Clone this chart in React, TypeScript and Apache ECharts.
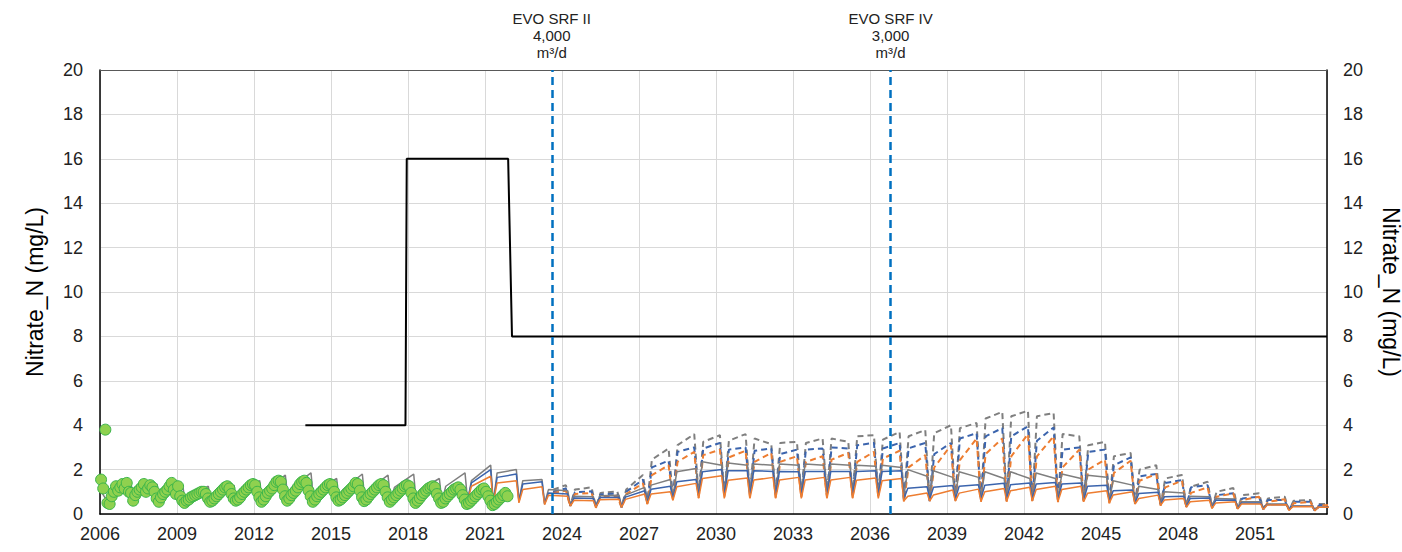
import React, { useEffect, useRef } from "react";
import * as echarts from "echarts";

// ---------- DATA ----------
const xMin = 2006;
const xMax = 2053.8;
const xTickYears = [2006, 2009, 2012, 2015, 2018, 2021, 2024, 2027, 2030, 2033, 2036, 2039, 2042, 2045, 2048, 2051];

// Observed Nitrate_N, monthly values per year (Jan..Dec)
const obsYears = [2006, 2007, 2008, 2009, 2010, 2011, 2012, 2013, 2014, 2015, 2016, 2017, 2018, 2019, 2020, 2021];
const obsMonthly: number[][] = [
  [1.55, 1.15, 3.8, 0.5, 0.45, 0.8, 1.0, 1.25, 1.05, 1.2, 1.35, 1.15],
  [1.4, 1.0, 0.95, 0.6, 0.85, 1.0, 1.1, 1.2, 1.35, 1.0, 1.15, 1.3],
  [1.2, 1.0, 0.7, 0.55, 0.75, 0.9, 1.0, 1.1, 1.25, 1.4, 1.1, 0.9],
  [1.25, 0.8, 0.6, 0.5, 0.6, 0.65, 0.75, 0.8, 0.85, 0.9, 0.95, 1.0],
  [1.0, 0.9, 0.7, 0.55, 0.6, 0.7, 0.8, 0.9, 1.0, 1.1, 1.2, 1.25],
  [1.15, 0.9, 0.7, 0.6, 0.65, 0.75, 0.9, 1.0, 1.1, 1.2, 1.3, 1.35],
  [1.3, 1.0, 0.75, 0.55, 0.65, 0.8, 0.95, 1.05, 1.15, 1.3, 1.45, 1.5],
  [1.45, 1.1, 0.8, 0.6, 0.7, 0.85, 0.95, 1.05, 1.2, 1.35, 1.45, 1.5],
  [1.4, 1.05, 0.8, 0.55, 0.65, 0.8, 0.9, 1.0, 1.1, 1.2, 1.3, 1.35],
  [1.3, 1.0, 0.75, 0.6, 0.65, 0.75, 0.85, 0.95, 1.05, 1.15, 1.25, 1.4],
  [1.35, 1.05, 0.75, 0.58, 0.65, 0.78, 0.9, 1.0, 1.1, 1.2, 1.3, 1.35],
  [1.3, 1.0, 0.75, 0.55, 0.65, 0.75, 0.85, 0.95, 1.05, 1.15, 1.25, 1.3],
  [1.25, 0.95, 0.7, 0.5, 0.6, 0.72, 0.85, 0.95, 1.05, 1.15, 1.2, 1.25],
  [1.2, 0.9, 0.7, 0.5, 0.55, 0.7, 0.8, 0.9, 1.0, 1.1, 1.15, 1.2],
  [1.1, 0.85, 0.65, 0.45, 0.5, 0.6, 0.7, 0.8, 0.9, 1.0, 1.1, 1.15],
  [1.0, 0.8, 0.6, 0.4, 0.45, 0.55, 0.65, 0.75, 0.85, 0.95, 0.8],
];

// Target / limit step line
const limitTimes = [2014.0, 2017.9, 2017.95, 2021.9, 2022.05, 2053.8];
const limitValues = [4, 4, 16, 16, 8, 8];

// Event markers
const eventYears = [2023.6, 2036.8];
const eventLabels = ["EVO SRF II\n4,000\nm³/d", "EVO SRF IV\n3,000\nm³/d"];

// Simulated seasonal cycles: [cycle year, trough, early value, late value]
const grayStart = [2006.0, 1.1];
const graySolid: number[][] = [
  [2006, 0.5, 0.95, 1.3], [2007, 0.4, 0.95, 1.35], [2008, 0.6, 1.0, 1.3], [2009, 0.55, 0.8, 1.25],
  [2010, 0.5, 0.85, 1.3], [2011, 0.45, 0.95, 1.5], [2012, 0.6, 1.1, 1.75], [2013, 0.7, 1.2, 1.85],
  [2014, 0.6, 1.1, 1.6], [2015, 0.6, 1.1, 1.8], [2016, 0.6, 1.1, 1.75], [2017, 0.6, 1.2, 1.8],
  [2018, 0.55, 1.1, 1.6], [2019, 0.55, 1.25, 1.85], [2020, 0.6, 1.5, 2.2], [2021, 0.5, 1.85, 2.0],
  [2022, 0.6, 1.5, 1.55], [2023, 0.48, 1.1, 1.05], [2024, 0.4, 0.8, 0.78], [2025, 0.33, 0.82, 0.85],
  [2026, 0.33, 0.85, 1.2], [2027, 0.55, 1.3, 1.55], [2028, 0.8, 1.9, 2.05], [2029, 0.95, 2.35, 2.2],
  [2030, 1.0, 2.3, 2.2], [2031, 1.0, 2.25, 2.2], [2032, 1.0, 2.25, 2.2], [2033, 1.0, 2.25, 2.2],
  [2034, 1.0, 2.25, 2.2], [2035, 1.0, 2.2, 2.15], [2036, 1.0, 2.2, 2.1], [2037, 0.85, 2.0, 1.7],
  [2038, 0.8, 1.95, 1.65], [2039, 0.8, 1.9, 1.65], [2040, 0.8, 1.9, 1.6], [2041, 0.8, 1.9, 1.6],
  [2042, 0.8, 1.85, 1.6], [2043, 0.75, 1.8, 1.6], [2044, 0.7, 1.75, 1.65], [2045, 0.63, 1.5, 1.3],
  [2046, 0.55, 1.25, 1.1], [2047, 0.48, 1.0, 0.95], [2048, 0.36, 0.8, 0.78], [2049, 0.33, 0.7, 0.68],
  [2050, 0.26, 0.55, 0.55], [2051, 0.26, 0.45, 0.45], [2052, 0.21, 0.36, 0.36], [2053, 0.18, 0.3, 0.3],
];
const blueSolid: number[][] = [
  [2020, 0.6, 1.4, 2.0], [2021, 0.5, 1.65, 1.8], [2022, 0.55, 1.35, 1.45], [2023, 0.45, 0.95, 0.9],
  [2024, 0.38, 0.72, 0.7], [2025, 0.32, 0.74, 0.76], [2026, 0.32, 0.76, 1.05], [2027, 0.5, 1.12, 1.25],
  [2028, 0.72, 1.45, 1.55], [2029, 0.84, 1.9, 2.0], [2030, 0.86, 1.95, 1.95], [2031, 0.86, 1.95, 1.92],
  [2032, 0.86, 1.92, 1.9], [2033, 0.86, 1.92, 1.92], [2034, 0.86, 1.92, 1.92], [2035, 0.86, 1.92, 1.95],
  [2036, 0.86, 1.92, 1.95], [2037, 0.7, 1.16, 1.23], [2038, 0.68, 1.2, 1.28], [2039, 0.68, 1.25, 1.32],
  [2040, 0.68, 1.3, 1.38], [2041, 0.68, 1.32, 1.4], [2042, 0.68, 1.35, 1.42], [2043, 0.65, 1.35, 1.4],
  [2044, 0.63, 1.25, 1.3], [2045, 0.58, 1.05, 1.08], [2046, 0.5, 0.92, 0.98], [2047, 0.44, 0.78, 0.8],
  [2048, 0.34, 0.7, 0.72], [2049, 0.3, 0.62, 0.63], [2050, 0.25, 0.5, 0.5], [2051, 0.24, 0.42, 0.43],
  [2052, 0.2, 0.35, 0.35], [2053, 0.17, 0.3, 0.3],
];
const orangeSolid: number[][] = [
  [2020, 0.6, 1.25, 1.7], [2021, 0.5, 1.4, 1.5], [2022, 0.5, 1.1, 1.23], [2023, 0.42, 0.85, 0.8],
  [2024, 0.36, 0.62, 0.6], [2025, 0.3, 0.64, 0.66], [2026, 0.3, 0.66, 0.9], [2027, 0.45, 0.9, 1.0],
  [2028, 0.62, 1.23, 1.38], [2029, 0.7, 1.6, 1.72], [2030, 0.7, 1.52, 1.62], [2031, 0.7, 1.53, 1.65],
  [2032, 0.7, 1.53, 1.65], [2033, 0.7, 1.53, 1.65], [2034, 0.7, 1.53, 1.65], [2035, 0.7, 1.52, 1.62],
  [2036, 0.7, 1.5, 1.6], [2037, 0.6, 0.8, 0.95], [2038, 0.58, 0.86, 1.08], [2039, 0.58, 0.94, 1.12],
  [2040, 0.58, 1.0, 1.15], [2041, 0.58, 1.05, 1.2], [2042, 0.58, 1.1, 1.25], [2043, 0.56, 1.1, 1.25],
  [2044, 0.55, 0.93, 1.05], [2045, 0.5, 0.86, 1.0], [2046, 0.45, 0.7, 0.85], [2047, 0.4, 0.63, 0.7],
  [2048, 0.3, 0.55, 0.62], [2049, 0.26, 0.5, 0.55], [2050, 0.22, 0.45, 0.45], [2051, 0.2, 0.4, 0.42],
  [2052, 0.17, 0.33, 0.34], [2053, 0.15, 0.3, 0.3],
];

// Dashed scenarios: lead-in [start year, start value, value before first trough], then cycles
const grayDashLead = [2023.65, 1.1, 1.3];
const blueDashLead = [2023.65, 1.0, 1.15];
const orangeDashLead = [2023.65, 0.95, 1.05];
const grayDashed: number[][] = [
  [2024, 0.38, 1.1, 1.2], [2025, 0.32, 0.95, 1.02], [2026, 0.32, 1.1, 1.76], [2027, 0.5, 2.45, 2.95],
  [2028, 0.72, 3.1, 3.6], [2029, 0.85, 3.25, 3.55], [2030, 0.88, 3.3, 3.6], [2031, 0.88, 3.4, 3.15],
  [2032, 0.88, 3.2, 3.25], [2033, 0.88, 3.2, 3.4], [2034, 0.88, 3.4, 3.25], [2035, 0.88, 3.5, 3.55],
  [2036, 0.88, 3.35, 3.7], [2037, 0.62, 3.5, 3.78], [2038, 0.6, 3.64, 4.0], [2039, 0.62, 3.87, 4.1],
  [2040, 0.62, 4.3, 4.6], [2041, 0.62, 4.4, 4.65], [2042, 0.62, 4.4, 4.55], [2043, 0.6, 3.6, 3.5],
  [2044, 0.6, 3.1, 3.25], [2045, 0.55, 2.6, 2.75], [2046, 0.5, 2.0, 2.2], [2047, 0.42, 1.6, 1.76],
  [2048, 0.34, 1.23, 1.45], [2049, 0.3, 1.0, 1.17], [2050, 0.25, 0.85, 0.93], [2051, 0.22, 0.7, 0.78],
  [2052, 0.19, 0.6, 0.63], [2053, 0.17, 0.45, 0.45],
];
const blueDashed: number[][] = [
  [2024, 0.36, 0.98, 1.02], [2025, 0.3, 0.88, 0.92], [2026, 0.3, 1.0, 1.55], [2027, 0.48, 2.1, 2.4],
  [2028, 0.7, 2.8, 3.0], [2029, 0.82, 2.95, 3.2], [2030, 0.84, 2.9, 3.0], [2031, 0.84, 2.85, 2.95],
  [2032, 0.84, 2.7, 2.9], [2033, 0.84, 2.9, 2.95], [2034, 0.84, 3.0, 2.95], [2035, 0.84, 3.1, 3.2],
  [2036, 0.84, 2.95, 3.2], [2037, 0.6, 2.96, 3.2], [2038, 0.58, 2.7, 3.2], [2039, 0.6, 3.4, 3.64],
  [2040, 0.6, 3.5, 3.87], [2041, 0.6, 3.5, 3.95], [2042, 0.6, 3.3, 3.9], [2043, 0.58, 2.9, 3.0],
  [2044, 0.58, 2.8, 2.9], [2045, 0.52, 2.2, 2.55], [2046, 0.46, 1.7, 1.8], [2047, 0.4, 1.4, 1.53],
  [2048, 0.32, 1.2, 1.3], [2049, 0.28, 0.85, 0.93], [2050, 0.24, 0.7, 0.78], [2051, 0.21, 0.63, 0.63],
  [2052, 0.18, 0.55, 0.55], [2053, 0.16, 0.4, 0.4],
];
const orangeDashed: number[][] = [
  [2024, 0.34, 0.9, 0.95], [2025, 0.28, 0.78, 0.82], [2026, 0.28, 0.9, 1.38], [2027, 0.45, 1.75, 2.2],
  [2028, 0.62, 2.35, 2.8], [2029, 0.72, 2.65, 2.9], [2030, 0.74, 2.55, 2.85], [2031, 0.74, 2.35, 2.75],
  [2032, 0.74, 2.35, 2.6], [2033, 0.74, 2.35, 2.6], [2034, 0.74, 2.45, 2.75], [2035, 0.74, 2.35, 2.8],
  [2036, 0.74, 2.5, 2.85], [2037, 0.55, 2.1, 2.65], [2038, 0.53, 2.1, 3.1], [2039, 0.55, 2.43, 3.4],
  [2040, 0.55, 2.7, 3.4], [2041, 0.55, 2.6, 3.6], [2042, 0.55, 2.6, 3.5], [2043, 0.53, 2.1, 2.9],
  [2044, 0.53, 2.0, 2.45], [2045, 0.48, 1.85, 2.4], [2046, 0.43, 1.5, 1.8], [2047, 0.37, 1.2, 1.5],
  [2048, 0.3, 0.95, 1.2], [2049, 0.26, 0.78, 0.93], [2050, 0.22, 0.63, 0.78], [2051, 0.2, 0.55, 0.66],
  [2052, 0.17, 0.48, 0.55], [2053, 0.15, 0.38, 0.42],
];

// Seasonal timing of each cycle (fraction of year)
const troughPhase = 0.32;
const earlyPhaseSolid = 0.47;
const latePhaseSolid = 1.22;
const earlyPhaseDash = 0.5;
const latePhaseDash = 1.15;

const FONT = "Liberation Sans, Arial, sans-serif";

function cyclesToPoints(rows: number[][], early: number, late: number): number[][] {
  const pts: number[][] = [];
  rows.forEach(([y, tr, a, b]) => {
    pts.push([y + troughPhase, tr]);
    pts.push([y + early, a]);
    pts.push([y + late, b]);
  });
  return pts;
}

export default function App() {
  const ref = useRef<HTMLDivElement>(null);
  useEffect(() => {
    if (!ref.current) return;
    const chart = echarts.init(ref.current, undefined, { renderer: "svg" });

    const obsData: number[][] = [];
    obsYears.forEach((yr, i) => {
      obsMonthly[i].forEach((v, m) => obsData.push([yr + (m + 0.5) / 12, v]));
    });
    const grayData = [grayStart, ...cyclesToPoints(graySolid, earlyPhaseSolid, latePhaseSolid)];
    const blueData = cyclesToPoints(blueSolid, earlyPhaseSolid, latePhaseSolid);
    const orangeData = cyclesToPoints(orangeSolid, earlyPhaseSolid, latePhaseSolid);
    const lead = (l: number[]) => [[l[0], l[1]], [l[0] + 0.5, l[2]]];
    const grayDashData = [...lead(grayDashLead), ...cyclesToPoints(grayDashed, earlyPhaseDash, latePhaseDash)];
    const blueDashData = [...lead(blueDashLead), ...cyclesToPoints(blueDashed, earlyPhaseDash, latePhaseDash)];
    const orangeDashData = [...lead(orangeDashLead), ...cyclesToPoints(orangeDashed, earlyPhaseDash, latePhaseDash)];
    const limitData = limitTimes.map((t, i) => [t, limitValues[i]]);

    const lineBase = { type: "line", showSymbol: false, symbol: "none", silent: true, clip: true };
    const dash = [6, 4];

    chart.setOption({
      animation: false,
      backgroundColor: "#ffffff",
      textStyle: { fontFamily: FONT },
      grid: { left: 100, right: 75, top: 70, bottom: 38, containLabel: false, outerBoundsMode: "none" },
      xAxis: [
        {
          type: "value",
          min: xMin,
          max: xMax,
          interval: 3,
          axisLine: { show: true, onZero: false, lineStyle: { color: "#000", width: 1.5 } },
          axisTick: { show: false },
          axisLabel: {
            fontSize: 18,
            color: "#222",
            fontFamily: FONT,
            margin: 11,
            showMaxLabel: false,
            formatter: (v: number) => (xTickYears.includes(Math.round(v)) ? String(Math.round(v)) : ""),
          },
          splitLine: { show: true, lineStyle: { color: "#D9D9D9", width: 1 } },
        },
        {
          type: "value",
          position: "top",
          min: xMin,
          max: xMax,
          axisLine: { show: true, onZero: false, lineStyle: { color: "#595959", width: 1 } },
          axisTick: { show: false },
          axisLabel: { show: false },
          splitLine: { show: false },
        },
      ],
      yAxis: [
        {
          type: "value",
          min: 0,
          max: 20,
          interval: 2,
          name: "Nitrate_N (mg/L)",
          nameLocation: "middle",
          nameRotate: 90,
          nameGap: 54,
          nameTextStyle: { fontSize: 23, color: "#000", fontFamily: FONT },
          axisLine: { show: true, lineStyle: { color: "#000", width: 1.5 } },
          axisTick: { show: false },
          axisLabel: { fontSize: 18, color: "#222", fontFamily: FONT, margin: 17 },
          splitLine: { show: true, lineStyle: { color: "#D9D9D9", width: 1 } },
        },
        {
          type: "value",
          position: "right",
          min: 0,
          max: 20,
          interval: 2,
          name: "Nitrate_N (mg/L)",
          nameLocation: "middle",
          nameRotate: -90,
          nameGap: 52,
          nameTextStyle: { fontSize: 23, color: "#000", fontFamily: FONT },
          axisLine: { show: true, lineStyle: { color: "#000", width: 1.5 } },
          axisTick: { show: false },
          axisLabel: { fontSize: 18, color: "#222", fontFamily: FONT, margin: 16 },
          splitLine: { show: false },
        },
      ],
      series: [
        { ...lineBase, name: "gray dashed", data: grayDashData, lineStyle: { color: "#7F7F7F", width: 2, type: dash } },
        { ...lineBase, name: "blue dashed", data: blueDashData, lineStyle: { color: "#3B64AD", width: 2, type: dash } },
        { ...lineBase, name: "orange dashed", data: orangeDashData, lineStyle: { color: "#ED7D31", width: 2, type: dash } },
        { ...lineBase, name: "gray", data: grayData, lineStyle: { color: "#7F7F7F", width: 1.5 } },
        { ...lineBase, name: "blue", data: blueData, lineStyle: { color: "#3B64AD", width: 1.5 } },
        { ...lineBase, name: "orange", data: orangeData, lineStyle: { color: "#ED7D31", width: 1.5 } },
        {
          ...lineBase,
          name: "limit",
          data: limitData,
          lineStyle: { color: "#000", width: 2 },
          markLine: {
            silent: true,
            symbol: ["none", "none"],
            lineStyle: { color: "#0070C0", width: 2.5, type: [8, 5] },
            label: {
              show: true,
              position: "end",
              distance: 9,
              fontSize: 15,
              lineHeight: 17,
              color: "#222",
              fontFamily: FONT,
              align: "center",
            },
            data: eventYears.map((x, i) => ({ xAxis: x, label: { formatter: eventLabels[i] } })),
          },
        },
        {
          type: "scatter",
          name: "observed",
          data: obsData,
          symbol: "circle",
          symbolSize: 11,
          silent: true,
          itemStyle: { color: "#8FD14F", borderColor: "#3AB54A", borderWidth: 1, opacity: 1 },
          z: 5,
        },
      ],
    });
    return () => chart.dispose();
  }, []);

  return (
    <div
      ref={ref}
      style={{ position: "fixed", left: 0, top: 0, width: 1402, height: 552, background: "#fff" }}
    />
  );
}
